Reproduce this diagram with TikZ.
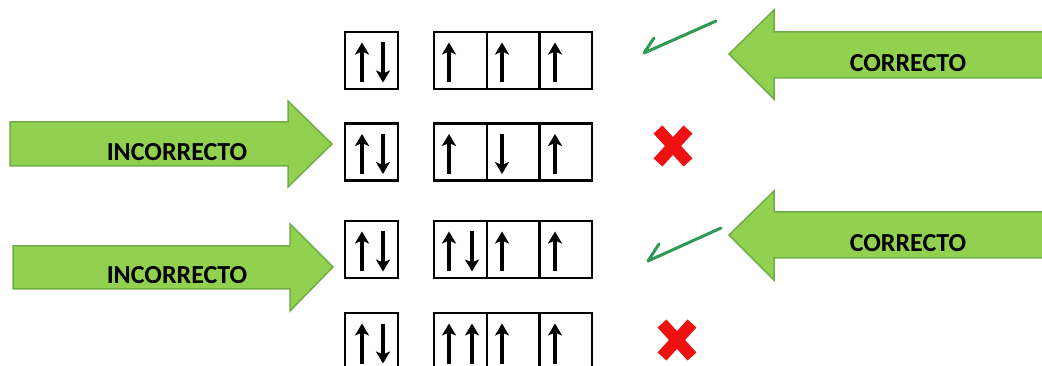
\documentclass[tikz,border=0pt]{standalone}
\usepackage{fontspec}
\setmainfont{Carlito}
\usetikzlibrary{arrows.meta}
\definecolor{gfill}{HTML}{92D050}
\definecolor{gdraw}{HTML}{71AD47}
\definecolor{chk}{HTML}{2E9B55}
\definecolor{xred}{HTML}{EE1111}
\begin{document}
\begin{tikzpicture}[x=1pt,y=-1pt,
  orb/.style={draw=black,line width=2.4pt,minimum height=57pt,inner sep=0pt,outer sep=0pt},
  small/.style={orb,minimum width=53pt},
  big/.style={orb,minimum width=158pt},
  spin/.style={line width=3.2pt,-{Stealth[length=12pt,width=14pt,inset=3pt]}},
  garrow/.style={fill=gfill,draw=gdraw,line width=1.5pt,line join=miter},
  glabel/.style={font=\bfseries\fontsize{26}{29}\selectfont,text=black,inner sep=0pt},
  check/.style={draw=chk,line width=3pt,line cap=round,line join=round},
  cross/.style={draw=xred,line width=12pt}
]
\useasboundingbox (0,0) rectangle (1042,366);
% green arrows
\draw[garrow] (1044,32) -- (774,32) -- (774,10) -- (729,54) -- (774,99) -- (774,78) -- (1044,78);
\node[glabel] (c1) at (908,63) {CORRECTO};
\draw[garrow] (1044,212) -- (774,212) -- (774,191) -- (729,235) -- (774,280) -- (774,258) -- (1044,258);
\node[glabel] (c2) at (908,243) {CORRECTO};
\draw[garrow] (10,122) -- (288,122) -- (288,101) -- (332,144) -- (288,187) -- (288,166) -- (10,166) -- cycle;
\node[glabel] (i1) at (177,152) {INCORRECTO};
\draw[garrow] (13,246) -- (290,246) -- (290,224) -- (333,267) -- (290,311) -- (290,289) -- (13,289) -- cycle;
\node[glabel] (i2) at (177,275) {INCORRECTO};
% rows
\foreach \r/\yc in {1/60.5,2/152,3/249.5,4/341.5}{
  \node[small] (s\r) at (371.5,\yc) {};
  \node[big] (b\r) at (513,\yc) {};
  \draw[line width=2.4pt] ([xshift=52.7pt]b\r.north west) -- ([xshift=52.7pt]b\r.south west);
  \draw[line width=2.4pt] ([xshift=105.3pt]b\r.north west) -- ([xshift=105.3pt]b\r.south west);
  % s orbital
  \draw[spin] ([shift={(-9.5,22)}]s\r.center) -- ([shift={(-9.5,-18)}]s\r.center);
  \draw[spin] ([shift={(11.5,-18)}]s\r.center) -- ([shift={(11.5,22)}]s\r.center);
}
% row 1: up up up
\draw[spin] ([shift={(-64,22)}]b1.center) -- ([shift={(-64,-18)}]b1.center);
\draw[spin] ([shift={(-11,22)}]b1.center) -- ([shift={(-11,-18)}]b1.center);
\draw[spin] ([shift={(42,22)}]b1.center) -- ([shift={(42,-18)}]b1.center);
% row 2: up down up
\draw[spin] ([shift={(-64,22)}]b2.center) -- ([shift={(-64,-18)}]b2.center);
\draw[spin] ([shift={(-11,-18)}]b2.center) -- ([shift={(-11,22)}]b2.center);
\draw[spin] ([shift={(42,22)}]b2.center) -- ([shift={(42,-18)}]b2.center);
% row 3: updown up up
\draw[spin] ([shift={(-64,22)}]b3.center) -- ([shift={(-64,-18)}]b3.center);
\draw[spin] ([shift={(-41,-18)}]b3.center) -- ([shift={(-41,22)}]b3.center);
\draw[spin] ([shift={(-11,22)}]b3.center) -- ([shift={(-11,-18)}]b3.center);
\draw[spin] ([shift={(42,22)}]b3.center) -- ([shift={(42,-18)}]b3.center);
% row 4: upup up up
\draw[spin] ([shift={(-64,22)}]b4.center) -- ([shift={(-64,-18)}]b4.center);
\draw[spin] ([shift={(-41,22)}]b4.center) -- ([shift={(-41,-18)}]b4.center);
\draw[spin] ([shift={(-11,22)}]b4.center) -- ([shift={(-11,-18)}]b4.center);
\draw[spin] ([shift={(42,22)}]b4.center) -- ([shift={(42,-18)}]b4.center);
% checks
\coordinate (k1) at (644,53);
\draw[check] (716,21) -- (k1) -- (654,38);
\coordinate (k3) at (648,261);
\draw[check] (721,228) -- (k3) -- (659,244);
% crosses
\coordinate (x2) at (673,146);
\coordinate (x4) at (677,340);
\draw[cross] ([shift={(-15,-16.5)}]x2) -- ([shift={(15,16.5)}]x2);
\draw[cross] ([shift={(15,-16.5)}]x2) -- ([shift={(-15,16.5)}]x2);
\draw[cross] ([shift={(-15,-16.5)}]x4) -- ([shift={(15,16.5)}]x4);
\draw[cross] ([shift={(15,-16.5)}]x4) -- ([shift={(-15,16.5)}]x4);
\end{tikzpicture}
\end{document}
